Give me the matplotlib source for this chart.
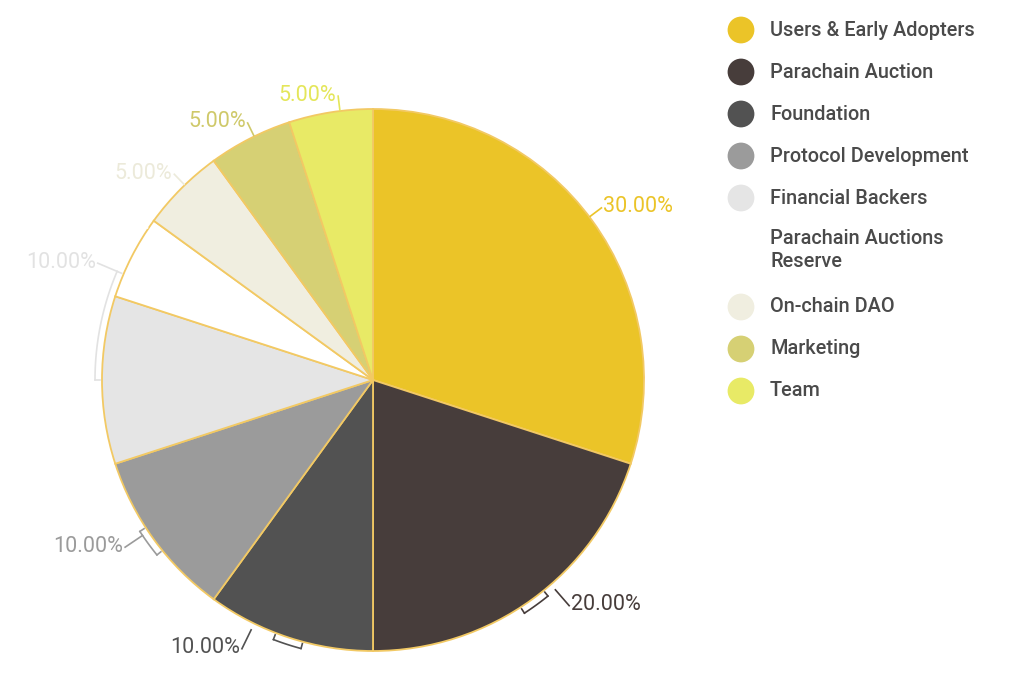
import numpy as np
import matplotlib.pyplot as plt

plt.rcParams['font.family'] = ['Roboto', 'DejaVu Sans']

categories = ["Users & Early Adopters", "Parachain Auction", "Foundation",
              "Protocol Development", "Financial Backers",
              "Parachain Auctions\nReserve", "On-chain DAO", "Marketing", "Team"]
shares = [30, 20, 10, 10, 10, 5, 5, 5, 5]
colors = ["#EBC428", "#473D3B", "#525252", "#9B9B9B", "#E5E5E5",
          "#FFFFFF", "#F0EEE0", "#D6D074", "#E8EA66"]
label_colors = ["#EBC428", "#473D3B", "#525252", "#9B9B9B", "#E2E2E2",
                "#FFFFFF", "#ECEADA", "#CFC96A", "#E4E65A"]
# small nudges (degrees) applied to label anchors, as in the original layout
label_shift = [1, 5, -8, -2, -23, -7, -1, -1, -2]

W, H = 1024, 680
fig = plt.figure(figsize=(W / 100, H / 100), dpi=100)
ax = fig.add_axes([0, 0, 1, 1])

cx, cy, R = 373, H - 380, 271
wedges, _ = ax.pie(shares, colors=colors, startangle=90, counterclock=False,
                   center=(cx, cy), radius=R,
                   wedgeprops=dict(edgecolor="#F2C964", linewidth=1.3))

def polar(r, deg):
    a = np.deg2rad(deg)
    return cx + r * np.cos(a), cy + r * np.sin(a)

for w, v, lc, sh in zip(wedges, shares, label_colors, label_shift):
    mid = (w.theta1 + w.theta2) / 2
    ang = mid + sh
    right = np.cos(np.deg2rad(ang)) >= 0
    if v >= 10 and v < 30:
        # bracket-style leader
        if abs(sh) > 10:
            span = np.linspace(mid, ang, 30)
        else:
            span = np.linspace(mid - 3, mid + 3, 20)
        bx, by = polar(R + 7, span)
        ax.plot(bx, by, color=lc, lw=1.2, solid_capstyle="round")
        for e in (span[0], span[-1]):
            ex, ey = polar(np.array([R + 2, R + 7]), e)
            ax.plot(ex, ey, color=lc, lw=1.2)
        sx, sy = polar(R + 7, ang)
        tx, ty = polar(R + 28, ang)
        ax.plot([sx, tx], [sy, ty], color=lc, lw=1.2)
    else:
        sx, sy = polar(np.array([R + 1, R + 15]), ang)
        ax.plot(sx, sy, color=lc, lw=1.2)
        tx, ty = sx[1], sy[1]
    ax.text(tx + (2 if right else -2), ty + 1, f"{v:.2f}%", color=lc,
            fontsize=15.5, ha="left" if right else "right", va="center")

# legend
y = 30
for name, c in zip(categories, colors):
    ax.scatter([741], [H - y], s=26 ** 2 * 0.55, color=c, edgecolors="none",
               zorder=3)
    if "\n" in name:
        ax.text(770, H - y + 11, name, fontsize=14.3, fontweight="medium",
                color="#4A4A4A", va="top", linespacing=1.25)
    else:
        ax.text(770, H - y, name, fontsize=14.3, fontweight="medium",
                color="#4A4A4A", va="center")
    y += 42 + 25 * name.count("\n")

ax.set_xlim(0, W)
ax.set_ylim(0, H)
ax.set_aspect("auto")
ax.axis("off")
fig.savefig("out.png", dpi=100, facecolor="white")
